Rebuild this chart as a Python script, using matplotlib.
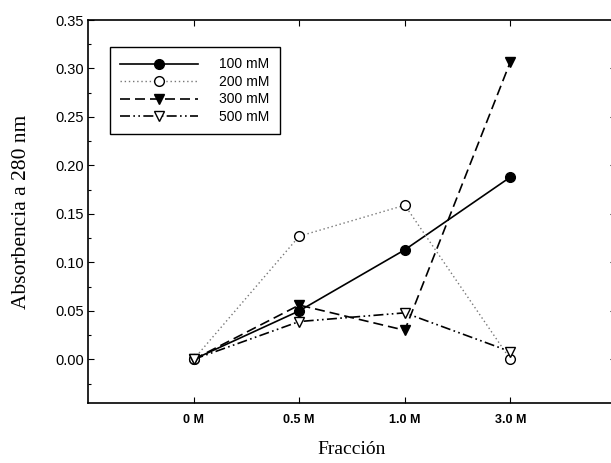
import matplotlib
matplotlib.use("Agg")
import matplotlib.pyplot as plt
from matplotlib.ticker import MultipleLocator

categories = ["0 M", "0.5 M", "1.0 M", "3.0 M"]
s100 = [0.0, 0.050, 0.113, 0.188]
s200 = [0.0, 0.127, 0.159, 0.0]
s300 = [0.0, 0.056, 0.030, 0.307]
s500 = [0.0, 0.039, 0.048, 0.008]
labels = ["100 mM", "200 mM", "300 mM", "500 mM"]
yticks = [0.0, 0.05, 0.10, 0.15, 0.20, 0.25, 0.30, 0.35]

fig = plt.figure(figsize=(6.11, 4.63), dpi=100)
ax = fig.add_axes([88/611, 1-403/463, 528/611, 383/463])

x = list(range(len(categories)))
ax.plot(x, s100, color="black", lw=1.2, ls="-", marker="o", ms=7,
        mfc="black", mec="black", label=labels[0])
ax.plot(x, s200, color="#777777", lw=1.0, ls=(0, (1, 2)), marker="o", ms=7,
        mfc="white", mec="black", mew=1.0, label=labels[1])
ax.plot(x, s300, color="black", lw=1.2, ls=(0, (6, 3)), marker="v", ms=7,
        mfc="black", mec="black", label=labels[2])
ax.plot(x, s500, color="black", lw=1.2, ls=(0, (6, 2, 1, 2, 1, 2)), marker="v", ms=7,
        mfc="white", mec="black", mew=1.0, label=labels[3])

ax.set_xlim(-1, 4)
ax.set_ylim(-0.045, 0.35)
ax.set_xticks(x)
ax.set_xticklabels(categories, fontfamily="Liberation Sans", fontsize=9, fontweight="bold")
ax.yaxis.set_minor_locator(MultipleLocator(0.025))
ax.set_yticks(yticks)
ax.set_yticklabels([f"{v:.2f}" for v in yticks],
                   fontfamily="Liberation Sans", fontsize=10.5)
ax.tick_params(axis="both", which="both", direction="in", top=True, right=True)
ax.tick_params(axis="both", which="major", length=4, width=0.8)
ax.tick_params(axis="y", which="major", pad=3)
ax.tick_params(axis="x", which="major", pad=8)
ax.tick_params(axis="y", which="minor", length=2.5, width=0.8)
for sp in ax.spines.values():
    sp.set_linewidth(1.2)

ax.set_xlabel("Fracción", fontfamily="Liberation Serif", fontsize=14)
ax.xaxis.set_label_coords(0.5, (403-441)/383)
ax.set_ylabel("Absorbencia a 280 nm", fontfamily="Liberation Serif", fontsize=15.5)
ax.yaxis.set_label_coords((31-88)/528, 0.5)

leg = ax.legend(loc="upper left", bbox_to_anchor=(22/528, 1-27/383), frameon=True,
                fancybox=False, edgecolor="black", framealpha=1,
                prop={"family": "Liberation Sans", "size": 10},
                handlelength=5.6, handletextpad=1.5, labelspacing=0.25,
                borderpad=0.75, borderaxespad=0)
leg.get_frame().set_linewidth(1.0)

fig.savefig("out.png", dpi=100)
